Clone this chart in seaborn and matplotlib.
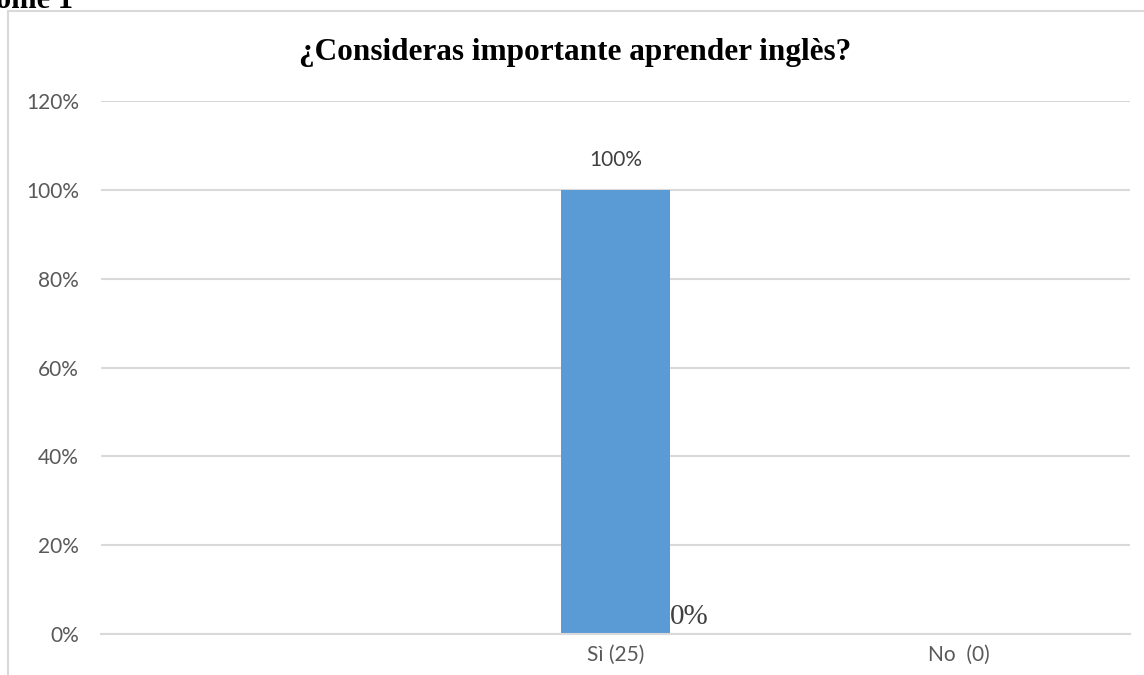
import pandas as pd
import seaborn as sns
import matplotlib.pyplot as plt
from matplotlib.lines import Line2D

categories = ["", "Sì (25)", "No  (0)"]
shares = [0.0, 1.0, 0.0]
bar_labels = ["", "100%", ""]
side_label = "0%"
y_ticks = [0, 0.2, 0.4, 0.6, 0.8, 1.0, 1.2]
y_tick_labels = ["0%", "20%", "40%", "60%", "80%", "100%", "120%"]

sns.set_theme(style="white")
plt.rcParams["font.family"] = ["Lato", "DejaVu Sans"]

grid_col = "#d9d9d9"
text_col = "#595959"

fig = plt.figure(figsize=(11.44, 6.75), dpi=100)
ax = fig.add_axes([101 / 1144, 1 - 634 / 675, 1029 / 1144, 533 / 675])

data = pd.DataFrame({"cat": categories, "share": shares})
sns.barplot(data=data, x="cat", y="share", order=categories, color="#5B9BD5",
            saturation=1, width=0.315, linewidth=0, ax=ax)

ax.set_ylim(0, 1.2)
ax.set_yticks(y_ticks)
ax.set_yticklabels(y_tick_labels)
ax.yaxis.grid(True, color=grid_col, lw=1.5)
ax.set_axisbelow(True)
for s in ["left", "right", "top"]:
    ax.spines[s].set_visible(False)
ax.spines["bottom"].set_color(grid_col)
ax.spines["bottom"].set_linewidth(1.5)
ax.tick_params(axis="y", length=0, pad=16, labelsize=15, labelcolor=text_col)
ax.tick_params(axis="x", length=0, pad=8, labelsize=15, labelcolor=text_col)
ax.set_xlabel("")
ax.set_ylabel("")

# data labels
ax.bar_label(ax.containers[0], labels=bar_labels, padding=14,
             fontsize=15, color="#404040")
bar = ax.patches[1]
ax.annotate(side_label, xy=(bar.get_x() + bar.get_width(), 0),
            xytext=(0, 3), textcoords="offset points", ha="left", va="bottom",
            fontsize=21, color="#404040", family="Liberation Serif")

# title and chart frame
fig.text(575 / 1144, 1 - 60 / 675, "¿Consideras importante aprender inglès?",
         ha="center", va="baseline", fontsize=22.5, fontweight="bold",
         family="Liberation Serif", color="black")
fig.text(-4 / 1144, 1 - 8 / 675, "ome 1", ha="left", va="baseline",
         fontsize=22, fontweight="bold", family="Liberation Serif", color="black")
fig.add_artist(Line2D([8 / 1144, 8 / 1144], [0, 1 - 11 / 675],
                      transform=fig.transFigure, color=grid_col, lw=1.5))
fig.add_artist(Line2D([8 / 1144, 1], [1 - 11 / 675, 1 - 11 / 675],
                      transform=fig.transFigure, color=grid_col, lw=1.5))

fig.savefig("out.png", dpi=100)
